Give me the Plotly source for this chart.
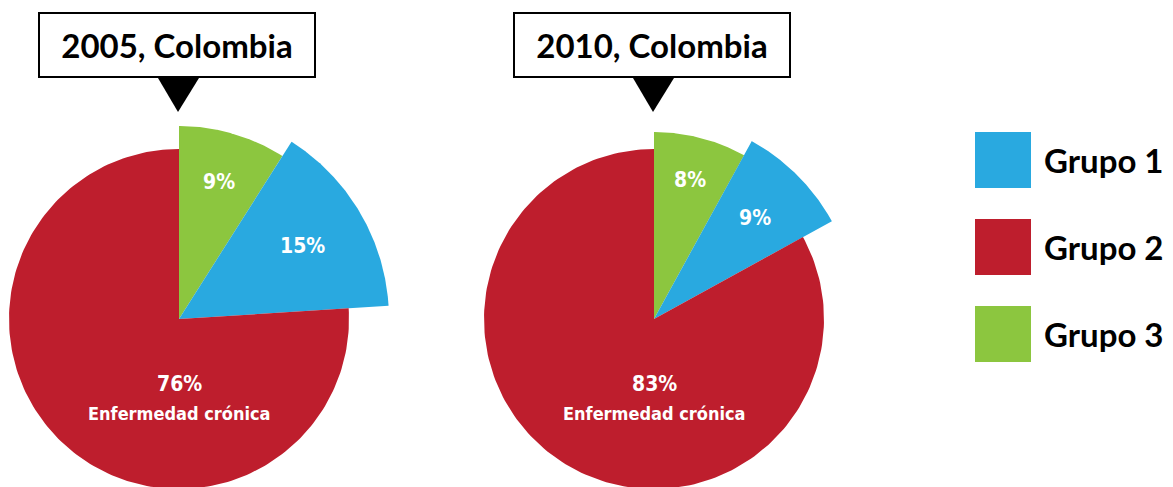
import numpy as np
import plotly.graph_objects as go

# ---- data ----
groups = ["Grupo 1", "Grupo 2", "Grupo 3"]
years = ["2005, Colombia", "2010, Colombia"]
# order in pie, clockwise from 12 o'clock: Grupo 3, Grupo 1, Grupo 2
pie_order = ["Grupo 3", "Grupo 1", "Grupo 2"]
values_2005 = {"Grupo 3": 9, "Grupo 1": 15, "Grupo 2": 76}
values_2010 = {"Grupo 3": 8, "Grupo 1": 9, "Grupo 2": 83}
chronic_label = "Enfermedad crónica"

# ---- style ----
W, H = 1173, 487
colors = {"Grupo 1": "#29A9E0", "Grupo 2": "#BE1E2D", "Grupo 3": "#8CC63F"}
centers = [(179, 319), (654, 319)]
radii = [
    {"Grupo 3": 193, "Grupo 1": 210, "Grupo 2": 170},
    {"Grupo 3": 187, "Grupo 1": 203, "Grupo 2": 170},
]
label_r = 143
title_font = dict(family="Lato, DejaVu Sans", size=33, color="black", weight="bold")
cond = "DejaVu Sans Condensed, DejaVu Sans"


def lab_font(size):
    return dict(family=cond, size=size, color="white", weight="bold")


fig = go.Figure()
annotations = []
shapes = []

for i, vals in enumerate([values_2005, values_2010]):
    cx, cy = centers[i]
    total = sum(vals.values())
    start = 0.0
    for g in pie_order:
        frac = vals[g] / total
        a0, a1 = start * 2 * np.pi, (start + frac) * 2 * np.pi
        t = np.linspace(a0, a1, 200)
        r = radii[i][g]
        xs = np.concatenate([[cx], cx + r * np.sin(t), [cx]])
        ys = np.concatenate([[cy], cy - r * np.cos(t), [cy]])
        fig.add_trace(go.Scatter(x=xs, y=ys, fill="toself", mode="lines",
                                 line=dict(width=0), fillcolor=colors[g],
                                 hoverinfo="skip", showlegend=False))
        mid = (a0 + a1) / 2
        if g == "Grupo 2":
            annotations.append(dict(x=cx, y=cy + 65, text=f"{vals[g]}%",
                                    showarrow=False, font=lab_font(21)))
            annotations.append(dict(x=cx, y=cy + 94, text=chronic_label,
                                    showarrow=False, font=lab_font(18)))
        else:
            annotations.append(dict(x=cx + label_r * np.sin(mid), y=cy - label_r * np.cos(mid),
                                    text=f"{vals[g]}%", showarrow=False, font=lab_font(21)))
        start += frac

    # title box
    annotations.append(dict(x=cx - 2, y=45, text=years[i], showarrow=False,
                            font=title_font, bgcolor="white", bordercolor="black",
                            borderwidth=2, width=274, height=62, borderpad=0))
    # pointer triangle
    shapes.append(dict(type="path", xref="x", yref="y",
                       path=f"M {cx-21},78 L {cx+20},78 L {cx-1},112 Z",
                       fillcolor="black", line=dict(width=0)))

# legend
leg_y = [160, 247, 334]
fig.add_trace(go.Scatter(x=[1003] * 3, y=leg_y, mode="markers",
                         marker=dict(symbol="square", size=56,
                                     color=[colors[g] for g in groups], line=dict(width=0)),
                         hoverinfo="skip", showlegend=False))
for g, y in zip(groups, leg_y):
    annotations.append(dict(x=1042, y=y, text=g, xanchor="left", showarrow=False,
                            font=dict(family="Lato, DejaVu Sans", size=33, color="black",
                                      weight="bold")))

fig.update_layout(
    width=W, height=H, margin=dict(l=0, r=0, t=0, b=0),
    paper_bgcolor="white", plot_bgcolor="white",
    xaxis=dict(range=[0, W], visible=False, fixedrange=True),
    yaxis=dict(range=[H, 0], visible=False, fixedrange=True),
    annotations=annotations, shapes=shapes, showlegend=False,
)
fig.write_html("out.html", config={"displayModeBar": False},
               post_script="document.body.style.margin='0';document.body.style.overflow='hidden';")
